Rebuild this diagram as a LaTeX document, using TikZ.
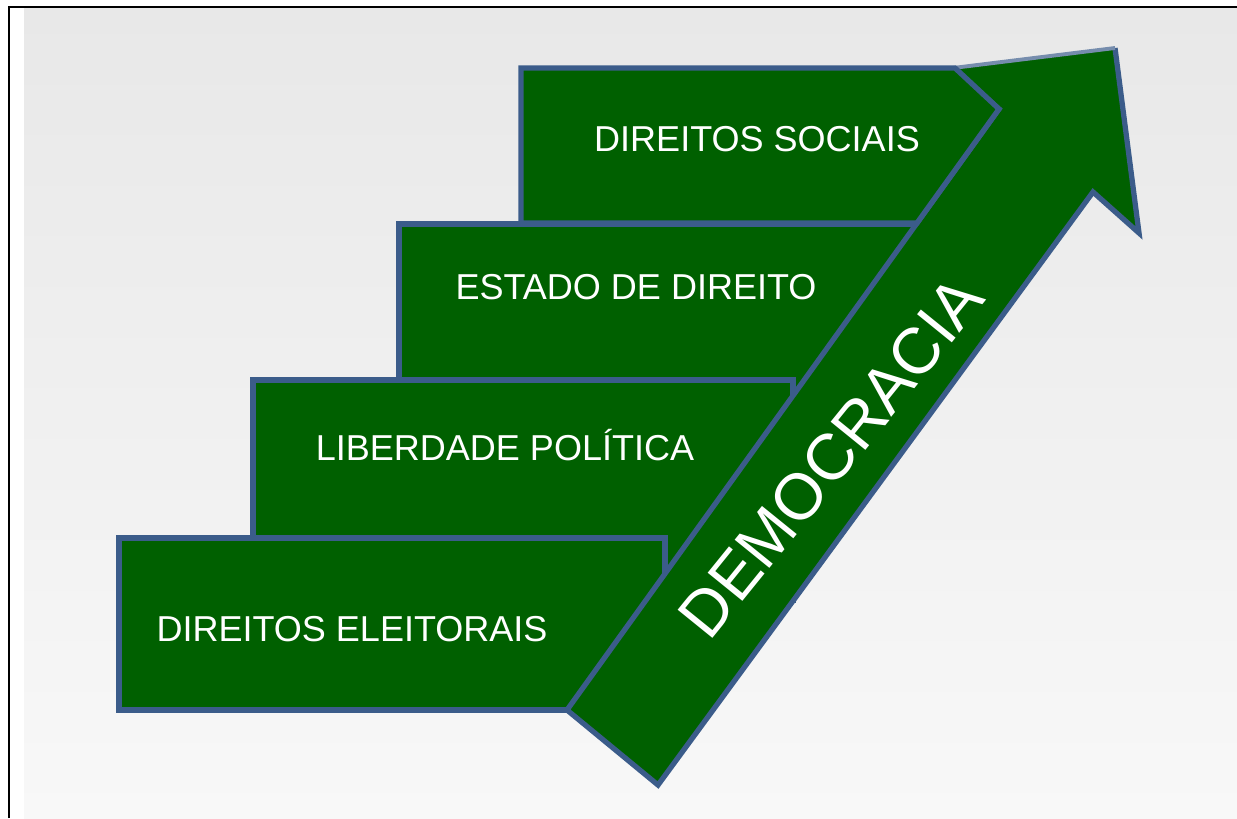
\documentclass[tikz,border=0pt]{standalone}
\usepackage{fontspec}
\setmainfont{Liberation Sans}
\definecolor{stairgreen}{RGB}{0,96,0}
\definecolor{stairblue}{RGB}{59,92,138}
\definecolor{bgtop}{RGB}{232,232,232}
\definecolor{bgbottom}{RGB}{248,248,248}

\begin{document}
\begin{tikzpicture}[x=0.02cm, y=-0.02cm,
		stair/.style={fill=stairgreen, draw=stairblue, line width=3pt},
		stairtext/.style={text=white, font=\fontsize{20.5}{24}\selectfont, inner sep=0pt, anchor=base}]
	\useasboundingbox (0,0) rectangle (1237,818);

	% background and frame
	\shade[top color=bgtop, bottom color=bgbottom] (24,8) rectangle (1237,818);
	\draw[line width=1.7pt] (9,818) -- (9,7) -- (1237,7);

	% lower steps, each one drawn over the one behind it
	\foreach \n/\l/\t/\r/\b/\tx/\ty/\txt in {
			estado/399/224/921/400/636/299/{ESTADO DE DIREITO},
			liberdade/253/380/793/600/505/460/{LIBERDADE POLÍTICA},
			eleitorais/119/538/665/710/352/641/{DIREITOS ELEITORAIS}}
		{
		\draw[stair] (\l,\b) rectangle (\r,\t);
		\node[stairtext] (\n) at (\tx,\ty) {\txt};
		}

	% the big arrow
	\coordinate (tailleft) at (567,710);
	\coordinate (tailright) at (658,785);
	\coordinate (notchleft) at (999,109);
	\coordinate (barbleft) at (953,68);
	\coordinate (tip) at (1115,48);
	\coordinate (barbright) at (1139,233);
	\coordinate (notchright) at (1093,192);
	\fill[stairgreen] (tailleft) -- (notchleft) -- (barbleft) -- (tip) -- (barbright) -- (notchright) -- (tailright) -- cycle;
	\draw[stairblue, line width=3pt] (barbleft) -- (notchleft) -- (tailleft) -- (tailright) -- (notchright) -- (barbright) -- (tip);
	\draw[stairblue!70, line width=2.2pt] (barbleft) -- (tip);
	\node[rotate=51, text=white, font=\fontsize{37}{40}\selectfont, inner sep=0pt] (democracia) at (831,457) {DEMOCRACIA};

	% top step sits on the arrow
	\draw[stair] (521,223) -- (521,68) -- (955,68) -- (notchleft) -- (917,223) -- cycle;
	\node[stairtext] (sociais) at (757,151) {DIREITOS SOCIAIS};
\end{tikzpicture}
\end{document}
